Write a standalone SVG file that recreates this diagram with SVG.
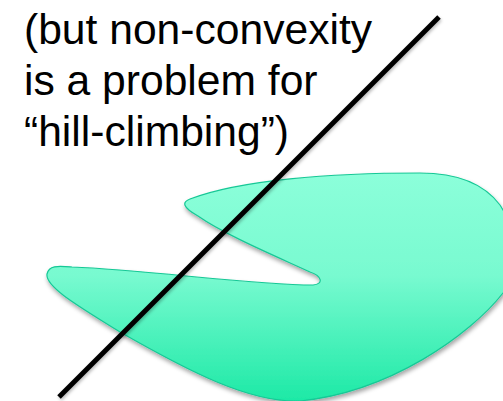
<svg xmlns="http://www.w3.org/2000/svg" width="503" height="401" viewBox="0 0 503 401">
  <defs>
    <linearGradient id="blobGrad" x1="0" y1="0" x2="0" y2="1">
      <stop offset="0" stop-color="#8CFFDA"/>
      <stop offset="0.45" stop-color="#78FAD0"/>
      <stop offset="1" stop-color="#1DE9A6"/>
    </linearGradient>
    <filter id="shadow" x="-10%" y="-10%" width="130%" height="130%">
      <feDropShadow dx="1" dy="3" stdDeviation="2" flood-color="#000" flood-opacity="0.35"/>
    </filter>
    <filter id="lineShadow" x="-10%" y="-10%" width="130%" height="130%">
      <feDropShadow dx="1" dy="2" stdDeviation="1.5" flood-color="#000" flood-opacity="0.25"/>
    </filter>
  </defs>
  <style>
    .label { font-family: "Liberation Sans", Arial, sans-serif; font-size: 42.6px; fill: #000; }
    .blob { fill: url(#blobGrad); stroke: #17C896; stroke-width: 1.2; }
    .cut { stroke: #000; stroke-width: 5; stroke-linecap: butt; fill: none; }
  </style>
  <rect width="503" height="401" fill="#fff"/>

  <g id="region">
    <path class="blob" filter="url(#shadow)" d="M 190,199
      C 240,180 330,173 420,173
      C 460,173 485,185 500,205
      C 520,235 520,270 503,293
      C 470,335 390,392 300,401
      C 250,403 190,372 120,332
      C 80,307 45,287 47,274
      C 49,265 58,266 72,267
      C 150,270 250,285 313,285
      C 324,284 322,276 310,272
      C 280,258 225,235 198,216
      C 182,207 182,202 190,199 Z"/>
  </g>

  <g id="text">
    <text class="label" x="24" y="44">(but non-convexity</text>
    <text class="label" x="24" y="95">is a problem for</text>
    <text class="label" x="24" y="146">“hill-climbing”)</text>
  </g>

  <g id="connectors">
    <line class="cut" filter="url(#lineShadow)" x1="59" y1="397" x2="439" y2="17"/>
  </g>
</svg>
